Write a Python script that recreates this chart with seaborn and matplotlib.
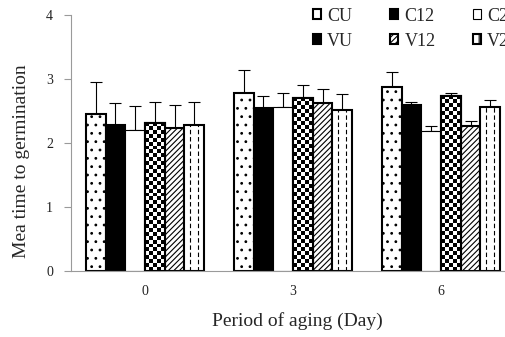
import numpy as np
import pandas as pd
import seaborn as sns
import matplotlib.pyplot as plt
from matplotlib.patches import Patch, Rectangle


# data

days = ['0', '3', '6']
treatments = ['CU', 'C12', 'C24', 'VU', 'V12', 'V24']

mean_time = {
    'CU':  [2.45, 2.78, 2.88],
    'C12': [2.29, 2.55, 2.59],
    'C24': [2.20, 2.56, 2.19],
    'VU':  [2.31, 2.70, 2.74],
    'V12': [2.24, 2.62, 2.26],
    'V24': [2.28, 2.52, 2.56],
}

err_up = {
    'CU':  [0.51, 0.36, 0.23],
    'C12': [0.33, 0.19, 0.06],
    'C24': [0.38, 0.22, 0.07],
    'VU':  [0.34, 0.20, 0.04],
    'V12': [0.36, 0.22, 0.08],
    'V24': [0.37, 0.24, 0.12],
}

rows = []
for t in treatments:
    for i, d in enumerate(days):
        rows.append({'day': d, 'trt': t, 'time': mean_time[t][i], 'err': err_up[t][i]})
df = pd.DataFrame(rows)


# style

sns.set_style('white')
plt.rcParams['font.family'] = ['Liberation Serif', 'DejaVu Serif']
plt.rcParams['hatch.linewidth'] = 0.8

fig = plt.figure(figsize=(5.06, 3.37), dpi=100)
# axes run past the right edge like the original screenshot
ax = fig.add_axes([71 / 506, 65.7 / 337, 444 / 506, 256.3 / 337])

colors = {'CU': 'white', 'C12': 'black', 'C24': 'white',
          'VU': 'white', 'V12': 'white', 'V24': 'white'}
hatches = {'CU': '..', 'C12': '', 'C24': '', 'VU': '', 'V12': '//////', 'V24': ''}

sns.barplot(data=df, x='day', y='time', hue='trt',
            order=days, hue_order=treatments, palette=colors,
            saturation=1, errorbar=None, width=0.8, legend=False,
            edgecolor='black', linewidth=1.5, ax=ax)

ax.set_xlim(-0.5, 2.5)
ax.set_ylim(0, 4)

bar_containers = list(ax.containers)
for t, cont in zip(treatments, bar_containers):
    for p in cont.patches:
        p.set_hatch(hatches[t])
        p.set_zorder(2)
        if t == 'C24':
            p.set_linewidth(0.8)

# checkerboard fill for VU, dashed lines for V24
to_px = ax.transData
for t, cont in zip(treatments, bar_containers):
    for p in cont.patches:
        x0, w, h = p.get_x(), p.get_width(), p.get_height()
        if t == 'VU':
            (px0, py0), (px1, py1) = to_px.transform([(x0, 0), (x0 + w, h)])
            ncol = 5
            nrow = int(round((py1 - py0) / ((px1 - px0) / ncol)))
            checks = (np.indices((nrow, ncol)).sum(axis=0) % 2).astype(float)
            im = ax.imshow(checks, cmap='gray', extent=(x0, x0 + w, 0, h),
                           aspect='auto', interpolation='nearest', zorder=2.5)
            im.set_clip_path(p)
            ax.add_patch(Rectangle((x0, 0), w, h, fill=False, edgecolor='black',
                                   linewidth=1.5, zorder=2.6))
        if t == 'V24':
            for f in (0.3, 0.7):
                ax.vlines(x0 + w * f, 0, h, colors='black', linestyles=(0, (4, 2.5)),
                          linewidth=0.8, zorder=2.5)

ax.set_xlim(-0.5, 2.5)
ax.set_ylim(0, 4)

# upper error bars
for t, cont in zip(treatments, bar_containers):
    xs, hs, es = [], [], []
    for p in cont.patches:
        xc = p.get_x() + p.get_width() / 2
        k = int(round(xc))
        xs.append(xc)
        hs.append(p.get_height())
        es.append(err_up[t][k])
    ax.errorbar(xs, hs, yerr=[np.zeros(len(es)), es], fmt='none',
                ecolor='black', elinewidth=0.8, capsize=4.3, capthick=0.8, zorder=1.5)

# axes and ticks
for side in ['top', 'right']:
    ax.spines[side].set_visible(False)
for side in ['left', 'bottom']:
    ax.spines[side].set_color('#9a9a9a')
    ax.spines[side].set_linewidth(0.8)

ax.set_yticks([0, 1, 2, 3, 4])
ax.set_xticks([0, 1, 2])
ax.set_xticklabels(days)
ax.set_xticks([-0.5, 0.5, 1.5, 2.5], minor=True)
ax.tick_params(axis='x', which='major', length=0, pad=10, labelsize=10, colors='#222222')
ax.tick_params(axis='x', which='minor', length=4, direction='out', color='#9a9a9a', width=0.8)
ax.tick_params(axis='y', length=5, direction='out', color='#9a9a9a', width=0.8,
               pad=8, labelsize=10, labelcolor='#222222', left=True)

ax.set_xlabel('Period of aging (Day)', fontsize=14)
ax.set_ylabel('Mea time to germination', fontsize=14)
ax.yaxis.set_label_coords(-0.093, 0.43)
ax.xaxis.set_label_coords((297 - 71) / 444, -0.16)

# legend, also cut off at the right edge
handles = [
    Patch(facecolor='white', edgecolor='black', hatch='.', linewidth=1.5),
    Patch(facecolor='black', edgecolor='black', linewidth=1.5),
    Patch(facecolor='white', edgecolor='black', linewidth=0.8),
    Patch(facecolor='black', edgecolor='black', hatch='..', linewidth=1.5),
    Patch(facecolor='white', edgecolor='black', hatch='//////', linewidth=1.5),
    Patch(facecolor='white', edgecolor='black', hatch='||', linewidth=1.5),
]
order = [0, 3, 1, 4, 2, 5]
fig.legend([handles[i] for i in order], [treatments[i] for i in order],
           loc='upper left', bbox_to_anchor=(300 / 506, 1.015), ncol=3,
           frameon=False, fontsize=13, handlelength=0.45, handleheight=0.45,
           handletextpad=0.35, columnspacing=2.05, labelspacing=0.45, borderpad=0.2)

plt.savefig('out.png', dpi=100)
